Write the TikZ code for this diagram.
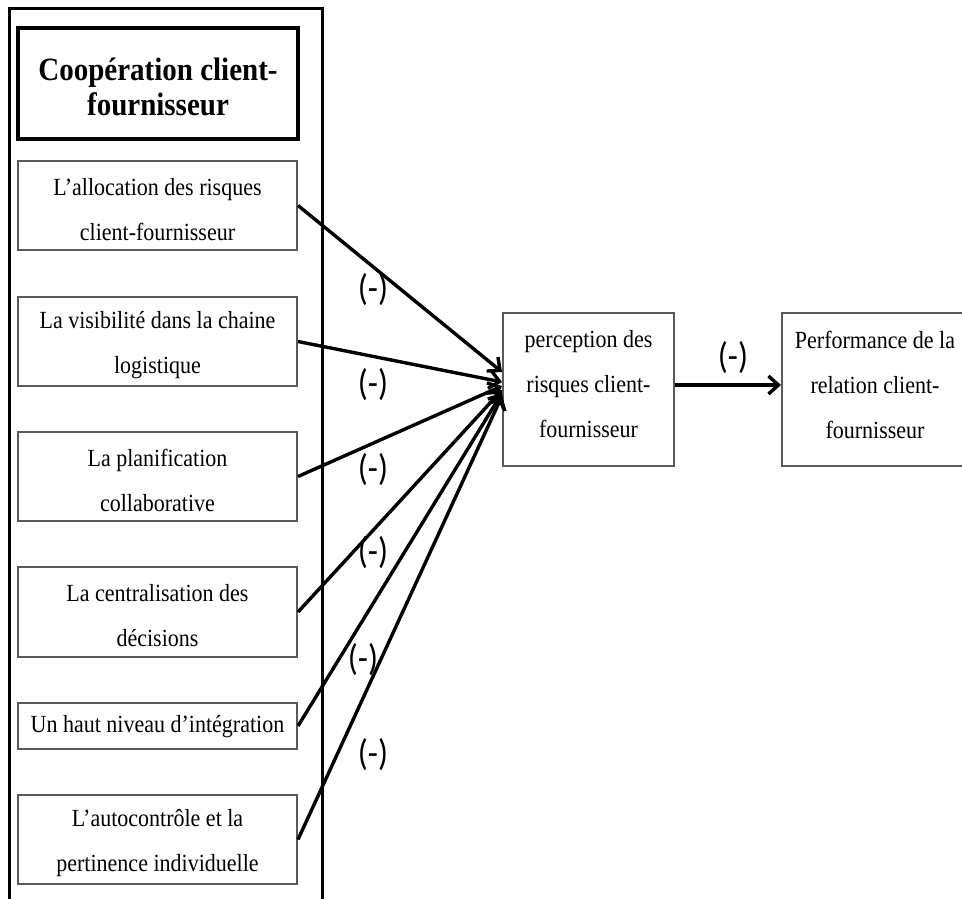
\documentclass[tikz,border=0pt]{standalone}
\usepackage{fontspec}
\setmainfont{Liberation Serif}
\newfontfamily\labfont{Carlito}
\usetikzlibrary{arrows.meta}
\newcommand\vstr[1]{\scalebox{1}[1.12]{#1}}
\begin{document}
\begin{tikzpicture}[x=1pt,y=-1pt,
  frame/.style={draw=black!65,line width=2pt,rectangle,inner sep=0pt},
  sub/.style={frame,minimum width=279pt},
  txt/.style={inner sep=0pt,align=center,font=\fontsize{22}{45}\selectfont},
  conn/.style={line width=3.4pt,-{Straight Barb[length=10pt,width=18pt,line width=3.4pt]}},
  lab/.style={font=\labfont\fontsize{33}{33}\selectfont,inner sep=0pt}]
\useasboundingbox (0,0) rectangle (962,898);
\clip (0,0) rectangle (962,898);
\fill[white] (0,0) rectangle (962,898);
% outer frame
\draw[line width=3pt] (9,905) -- (9,8) -- (322,8) -- (322,905);
% title
\node[draw,line width=3.5pt,rectangle,inner sep=0pt,minimum width=280pt,minimum height=111pt] (title) at (158,83.5) {};
\node[inner sep=0pt,align=center,font=\fontsize{29}{35}\selectfont\bfseries] (ttitle) at ([yshift=-3pt]title.center)
  {\vstr{Coopération client-}\\\vstr{fournisseur}};
% sub boxes
\node[sub,minimum height=89pt] (b1) at (157.5,205.5) {};
\node[sub,minimum height=89pt] (b2) at (157.5,341.5) {};
\node[sub,minimum height=89pt] (b3) at (157.5,476.5) {};
\node[sub,minimum height=90pt] (b4) at (157.5,612) {};
\node[sub,minimum height=46pt] (b5) at (157.5,726) {};
\node[sub,minimum height=89pt] (b6) at (157.5,839.5) {};
\node[txt] (t1) at ([yshift=-4pt]b1.center) {\vstr{L’allocation des risques}\\\vstr{client-fournisseur}};
\node[txt] (t2) at ([yshift=-4pt]b2.center) {\vstr{La visibilité dans la chaine}\\\vstr{logistique}};
\node[txt] (t3) at ([yshift=-4pt]b3.center) {\vstr{La planification}\\\vstr{collaborative}};
\node[txt] (t4) at ([yshift=-4pt]b4.center) {\vstr{La centralisation des}\\\vstr{décisions}};
\node[txt] (t5) at ([yshift=-1pt]b5.center) {\vstr{Un haut niveau d’intégration}};
\node[txt] (t6) at ([yshift=-4pt]b6.center) {\vstr{L’autocontrôle et la}\\\vstr{pertinence individuelle}};
% middle and right boxes
\node[frame,minimum width=171pt,minimum height=153pt] (mid) at (588.5,389.5) {};
\node[frame,minimum width=186pt,minimum height=153pt] (perf) at (875,389.5) {};
\node[txt] (tmid) at ([yshift=5pt]mid.center) {\vstr{perception des}\\\vstr{risques client-}\\\vstr{fournisseur}};
\node[txt] (tperf) at ([yshift=5pt]perf.center) {\vstr{Performance de la}\\\vstr{relation client-}\\\vstr{fournisseur}};
% arrow end points
\coordinate (e1) at (502,372);
\coordinate (e2) at (502,382);
\coordinate (e3) at (502,386);
\coordinate (e4) at (502,390);
\coordinate (e5) at (502,393);
\coordinate (e6) at (502,396);
\draw[conn] (b1.east) -- (e1);
\draw[conn] (b2.east) -- (e2);
\draw[conn] (b3.east) -- (e3);
\draw[conn] (b4.east) -- (e4);
\draw[conn] (b5.east) -- (e5);
\draw[conn] (b6.east) -- (e6);
\draw[conn] ([yshift=4.5pt]mid.east) -- ([yshift=4.5pt]perf.west);
% labels
\node[lab] (l1) at (373,290) {\vstr{(-)}};
\node[lab] (l2) at (373,385) {\vstr{(-)}};
\node[lab] (l3) at (373,470) {\vstr{(-)}};
\node[lab] (l4) at (373,553) {\vstr{(-)}};
\node[lab] (l5) at (363,660) {\vstr{(-)}};
\node[lab] (l6) at (373,755) {\vstr{(-)}};
\node[lab] (l7) at (733,358) {\vstr{(-)}};
\end{tikzpicture}
\end{document}
